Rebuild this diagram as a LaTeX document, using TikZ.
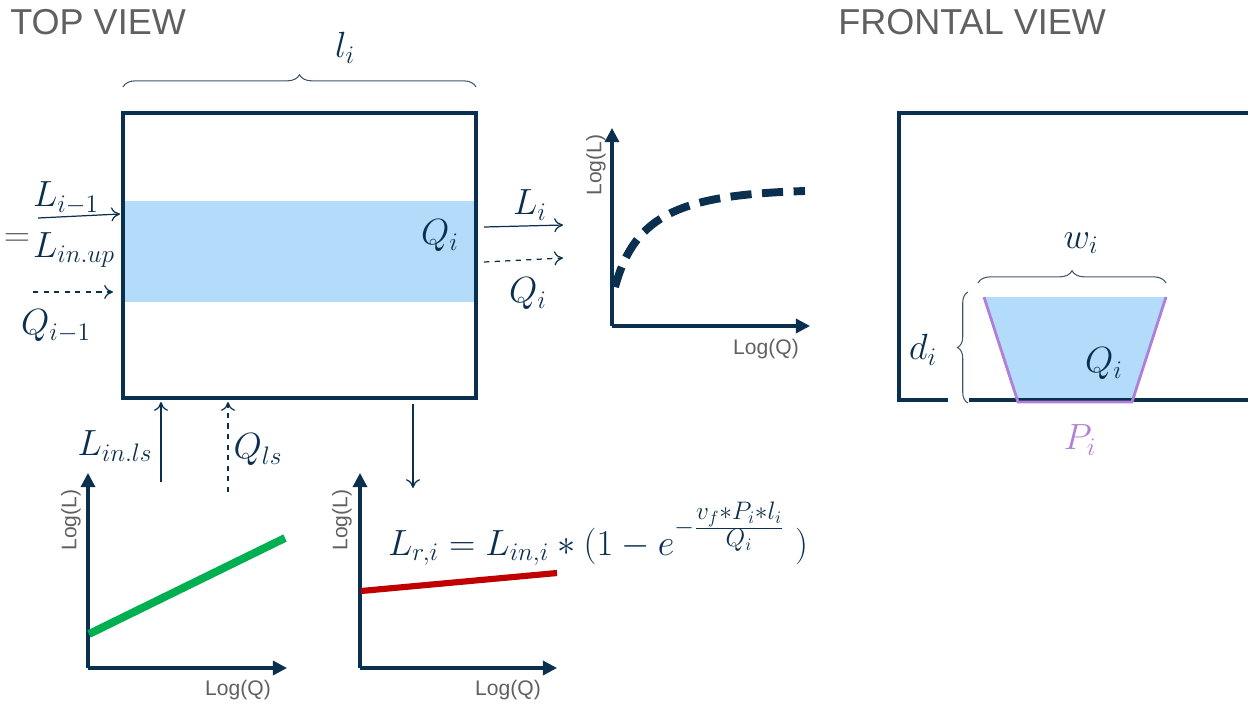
\documentclass[tikz,border=0pt]{standalone}
\usepackage{fontspec}
\setmainfont{Liberation Sans}
\usetikzlibrary{decorations.pathreplacing,arrows.meta}
\definecolor{navy}{HTML}{0B2F4E}
\definecolor{titlegray}{HTML}{606060}
\definecolor{bracegray}{HTML}{44546A}
\definecolor{water}{HTML}{B3DCFA}
\definecolor{wetpurple}{HTML}{B07FD8}
\definecolor{loadgreen}{HTML}{00B050}
\definecolor{loadred}{HTML}{C00000}
\tikzset{
  mlabel/.style={text=navy, font=\fontsize{20}{24}\selectfont, inner sep=1pt},
  viewtitle/.style={text=titlegray, font=\fontsize{20.5}{24}\selectfont, anchor=west, inner sep=0pt},
  axislabel/.style={text=titlegray, font=\fontsize{12}{14}\selectfont, inner sep=1pt},
  axis/.style={navy, line width=1.8pt, -{Triangle[length=8pt,width=8pt]}},
  flow/.style={navy, line width=0.7pt, -{To[length=5pt,width=8pt]}},
  qflow/.style={flow, dashed},
  frame/.style={navy, line width=1.8pt},
  bracket/.style={decorate, decoration={brace, amplitude=7pt}, draw=bracegray, line width=0.6pt},
}
\begin{document}
\begin{tikzpicture}[x=0.02cm, y=-0.02cm]
  \useasboundingbox (0,0) rectangle (1248,708);

  % titles
  \node[viewtitle] (toptitle) at (10,22) {TOP VIEW};
  \node[viewtitle] (fronttitle) at (838,22) {FRONTAL VIEW};

  % top view: reach
  \fill[water] (124,201) rectangle (475,302);
  \draw[frame] (123,113) rectangle (476,398);
  \node[mlabel] (qband) at (440,236) {$Q_i$};
  \draw[bracket] (123,87) -- (476,87);
  \node[mlabel] (lreach) at (345,48) {$l_i$};

  % inflow from upstream
  \node[mlabel, text=titlegray] (eq) at (17,240) {$=$};
  \node[mlabel] (lprev) at (66,198) {$L_{i-1}$};
  \node[mlabel] (linup) at (74,250) {$L_{in.up}$};
  \node[mlabel] (qprev) at (56,326) {$Q_{i-1}$};
  \coordinate (lprevs) at (38,218);
  \coordinate (lprevt) at (120,214);
  \coordinate (qprevs) at (33,292);
  \coordinate (qprevt) at (113,292);
  \draw[flow] (lprevs) -- (lprevt);
  \draw[qflow] (qprevs) -- (qprevt);

  % outflow downstream
  \node[mlabel] (lout) at (530,205) {$L_i$};
  \node[mlabel] (qout) at (528,294) {$Q_i$};
  \coordinate (louts) at (484,227);
  \coordinate (loutt) at (563,225);
  \coordinate (qouts) at (484,262);
  \coordinate (qoutt) at (563,258);
  \draw[flow] (louts) -- (loutt);
  \draw[qflow] (qouts) -- (qoutt);

  % lateral inflow and retention
  \node[mlabel] (linls) at (115,446) {$L_{in.ls}$};
  \node[mlabel] (qls) at (258,450) {$Q_{ls}$};
  \coordinate (linlss) at (161,482);
  \coordinate (linlst) at (161,402);
  \coordinate (qlss) at (228,492);
  \coordinate (qlst) at (228,402);
  \coordinate (rets) at (413,404);
  \coordinate (rett) at (413,488);
  \draw[flow] (linlss) -- (linlst);
  \draw[qflow] (qlss) -- (qlst);
  \draw[flow] (rets) -- (rett);
  \node[mlabel] (retention) at (598,534)
    {$L_{r,i} = L_{in,i} * (1 - e^{-\frac{\scriptstyle v_f*P_i*l_i}{\scriptstyle Q_i}}\;)$};

  % rating curve for outflow
  \draw[axis] (612,326) -- (612,128);
  \draw[axis] (612,326) -- (810,326);
  \node[axislabel, rotate=90] (ylab1) at (596,165) {Log(L)};
  \node[axislabel] (xlab1) at (766,349) {Log(Q)};
  \draw[navy, line width=4.5pt, dash pattern=on 12pt off 6pt]
    (615,287) .. controls (635,214) and (680,195) .. (805,191);

  % lateral load curve
  \draw[axis] (88,668) -- (88,473);
  \draw[axis] (88,668) -- (287,668);
  \node[axislabel, rotate=90] (ylab2) at (71,520) {Log(L)};
  \node[axislabel] (xlab2) at (238,690) {Log(Q)};
  \draw[loadgreen, line width=4.5pt] (89,634) -- (285,538);

  % retained load curve
  \draw[axis] (360,668) -- (360,473);
  \draw[axis] (360,668) -- (557,668);
  \node[axislabel, rotate=90] (ylab3) at (342,520) {Log(L)};
  \node[axislabel] (xlab3) at (508,690) {Log(Q)};
  \draw[loadred, line width=3.5pt] (361,591) -- (557,573);

  % frontal view: cross section
  \fill[water] (985,297) -- (1166,297) -- (1132,402) -- (1018,402) -- cycle;
  \draw[frame] (1250,113) -- (899,113) -- (899,400) -- (948,400);
  \draw[frame] (969,400) -- (1250,400);
  \draw[wetpurple, line width=1.6pt] (984,297) -- (1018,402) -- (1132,402) -- (1166,297);
  \draw[bracket] (978,283) -- (1166,283);
  \draw[bracket, decoration={amplitude=6pt}] (968,403) -- (968,292);
  \node[mlabel] (wlab) at (1081,243) {$w_i$};
  \node[mlabel] (dlab) at (923,350) {$d_i$};
  \node[mlabel] (qsec) at (1104,364) {$Q_i$};
  \node[mlabel, text=wetpurple] (plab) at (1080,440) {$P_i$};
\end{tikzpicture}
\end{document}
